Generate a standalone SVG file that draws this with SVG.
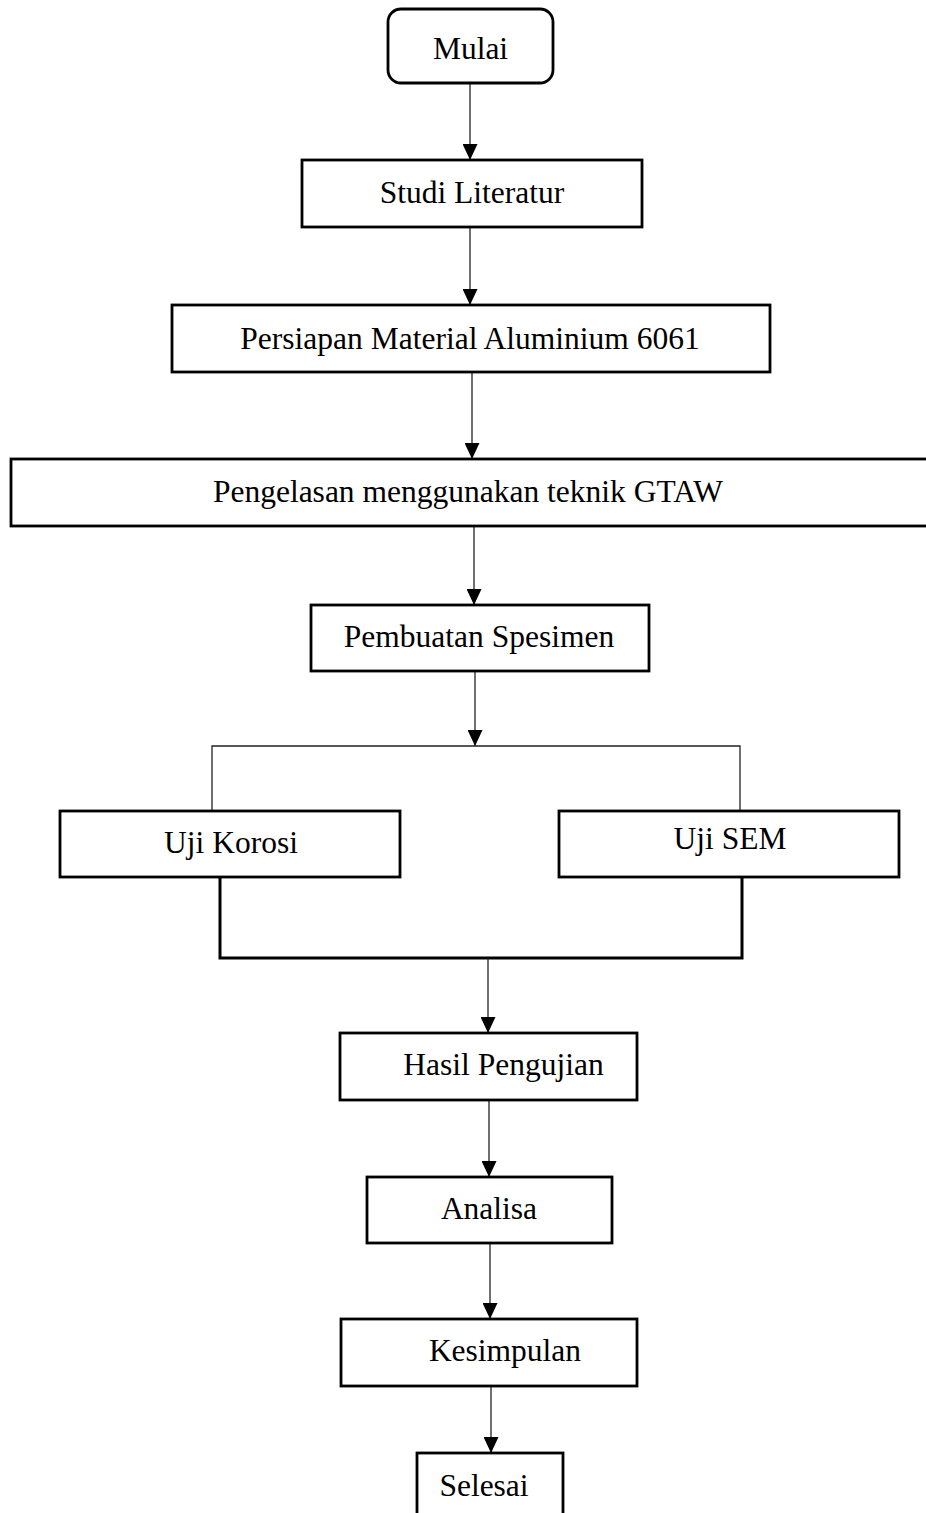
<svg xmlns="http://www.w3.org/2000/svg" width="926" height="1513" viewBox="0 0 926 1513">
<style>
.box{fill:#fff;stroke:#000;stroke-width:2.8}
.t{font-family:"Liberation Serif","Times New Roman",serif;font-size:31.5px;fill:#000;text-anchor:middle}
.c{fill:none;stroke:#222;stroke-width:1.3}
.br{fill:none;stroke:#000;stroke-width:3}
</style>
<defs>
<marker id="ah" markerWidth="16" markerHeight="15" refX="16" refY="7.5" orient="auto" markerUnits="userSpaceOnUse">
<path d="M0,0 L16,7.5 L0,15 Z" fill="#000"/>
</marker>
</defs>
<rect width="926" height="1513" fill="#fff"/>
<g id="connectors">
<line class="c" x1="470" y1="83" x2="470" y2="160" marker-end="url(#ah)"/>
<line class="c" x1="470" y1="227" x2="470" y2="305" marker-end="url(#ah)"/>
<line class="c" x1="472" y1="372" x2="472" y2="459" marker-end="url(#ah)"/>
<line class="c" x1="474" y1="526" x2="474" y2="605" marker-end="url(#ah)"/>
<line class="c" x1="475" y1="671" x2="475" y2="746" marker-end="url(#ah)"/>
<path class="c" d="M212,811 V746 H740 V811"/>
<path class="br" d="M220,877 V958 H742 V877"/>
<line class="c" x1="488" y1="958" x2="488" y2="1033" marker-end="url(#ah)"/>
<line class="c" x1="489" y1="1100" x2="489" y2="1177" marker-end="url(#ah)"/>
<line class="c" x1="490" y1="1243" x2="490" y2="1319" marker-end="url(#ah)"/>
<line class="c" x1="491" y1="1386" x2="491" y2="1453" stroke="#777" stroke-width="1" marker-end="url(#ah)"/>
</g>
<g id="mulai"><rect class="box" x="388" y="9" width="165" height="74" rx="13"/><text class="t" x="470.5" y="59">Mulai</text></g>
<g id="studi"><rect class="box" x="302" y="160" width="340" height="67"/><text class="t" x="472" y="203">Studi Literatur</text></g>
<g id="persiapan"><rect class="box" x="172" y="305" width="598" height="67"/><text class="t" x="470" y="349">Persiapan Material Aluminium 6061</text></g>
<g id="pengelasan"><rect class="box" x="11" y="459" width="925" height="67"/><text class="t" x="468" y="502">Pengelasan menggunakan teknik GTAW</text></g>
<g id="pembuatan"><rect class="box" x="311" y="605" width="338" height="66"/><text class="t" x="479" y="647">Pembuatan Spesimen</text></g>
<g id="korosi"><rect class="box" x="60" y="811" width="340" height="66"/><text class="t" x="231" y="853">Uji Korosi</text></g>
<g id="sem"><rect class="box" x="559" y="811" width="340" height="66"/><text class="t" x="730" y="849">Uji SEM</text></g>
<g id="hasil"><rect class="box" x="340" y="1033" width="297" height="67"/><text class="t" x="503.5" y="1075">Hasil Pengujian</text></g>
<g id="analisa"><rect class="box" x="367" y="1177" width="245" height="66"/><text class="t" x="489" y="1219">Analisa</text></g>
<g id="kesimpulan"><rect class="box" x="341" y="1319" width="296" height="67"/><text class="t" x="505" y="1361">Kesimpulan</text></g>
<g id="selesai"><rect class="box" x="417" y="1453" width="146" height="80"/><text class="t" x="484" y="1496">Selesai</text></g>
</svg>
